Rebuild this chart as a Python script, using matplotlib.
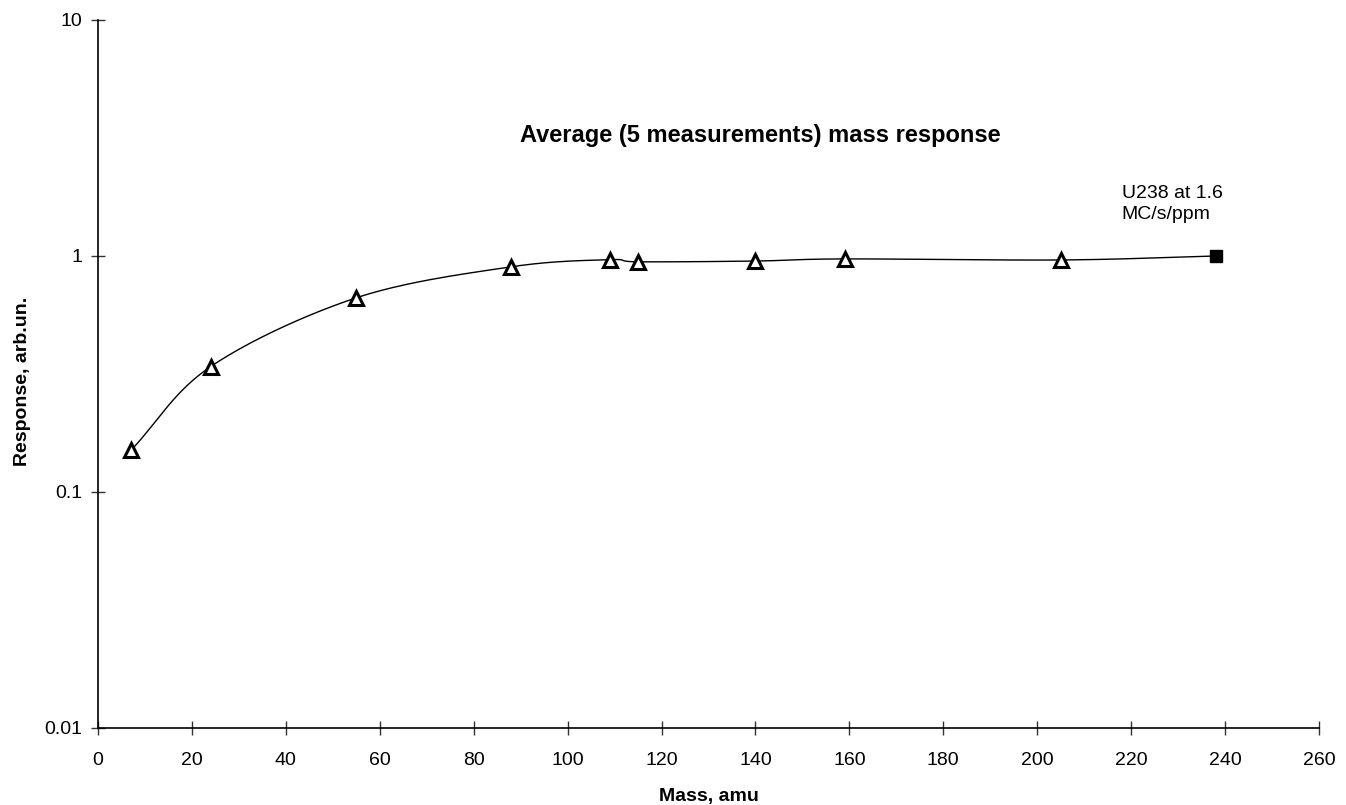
import numpy as np
import matplotlib
matplotlib.use("Agg")
import matplotlib.pyplot as plt

plt.rcParams['font.family'] = ['Liberation Sans', 'DejaVu Sans']

mass = [7, 24, 55, 88, 109, 115, 140, 159, 205]
response = [0.15, 0.34, 0.665, 0.90, 0.965, 0.945, 0.952, 0.972, 0.962]
u_mass = [238]
u_response = [1.0]
x_ticks = list(range(0, 261, 20))
y_ticks = [0.01, 0.1, 1, 10]
y_ticklabels = ["0.01", "0.1", "1", "10"]

fig = plt.figure(figsize=(13.46, 8.05), dpi=100)
ax = fig.add_axes([98/1346, 77/805, (1319-98)/1346, (728-20)/805])

# Catmull-Rom smoothing in display-like (x, log y) space
px = np.array(mass + u_mass, dtype=float)
py = np.log10(np.array(response + u_response, dtype=float))
sx = 1.0 / 4.696
sy = 1.0 / 236.0
P = np.column_stack([px / sx, py / sy])
Pext = np.vstack([P[0] - (P[1] - P[0]), P, P[-1] + (P[-1] - P[-2])])
curve = []
for i in range(1, len(Pext) - 2):
    p0, p1, p2, p3 = Pext[i-1], Pext[i], Pext[i+1], Pext[i+2]
    t = np.linspace(0, 1, 40)[:, None]
    c = 0.5 * ((2*p1) + (-p0 + p2)*t + (2*p0 - 5*p1 + 4*p2 - p3)*t**2 + (-p0 + 3*p1 - 3*p2 + p3)*t**3)
    curve.append(c)
curve = np.vstack(curve)
ax.plot(curve[:, 0]*sx, 10**(curve[:, 1]*sy), color='black', lw=1.0, zorder=2)

ax.plot(mass, response, linestyle='none', marker='^', markersize=10,
        markerfacecolor='white', markeredgecolor='black', markeredgewidth=2.2, zorder=3)
ax.plot(u_mass, u_response, linestyle='none', marker='s', markersize=9,
        color='black', zorder=3)

ax.set_yscale('log')
ax.set_xlim(0, 260)
ax.set_ylim(0.01, 10)
ax.set_xticks(x_ticks)
ax.set_yticks(y_ticks)
ax.set_yticklabels(y_ticklabels)
ax.yaxis.set_minor_locator(matplotlib.ticker.NullLocator())
ax.tick_params(axis='both', direction='inout', length=10, width=1, labelsize=14, color='#333333')
ax.tick_params(axis='x', pad=12)
ax.tick_params(axis='y', pad=6)
for s in ['top', 'right']:
    ax.spines[s].set_visible(False)
for s in ['left', 'bottom']:
    ax.spines[s].set_linewidth(1.2)

ax.set_xlabel('Mass, amu', fontsize=14, fontweight='bold', labelpad=14)
ax.set_ylabel('Response, arb.un.', fontsize=14, fontweight='bold', labelpad=14)
ax.yaxis.set_label_coords(-0.055, 0.49)

ax.text(141, 3.25, 'Average (5 measurements) mass response', fontsize=17,
        fontweight='bold', ha='center', va='center')
ax.text(218, 1.66, 'U238 at 1.6\nMC/s/ppm', fontsize=14, ha='left', va='center',
        linespacing=1.35)

fig.savefig('out.png', dpi=100)
